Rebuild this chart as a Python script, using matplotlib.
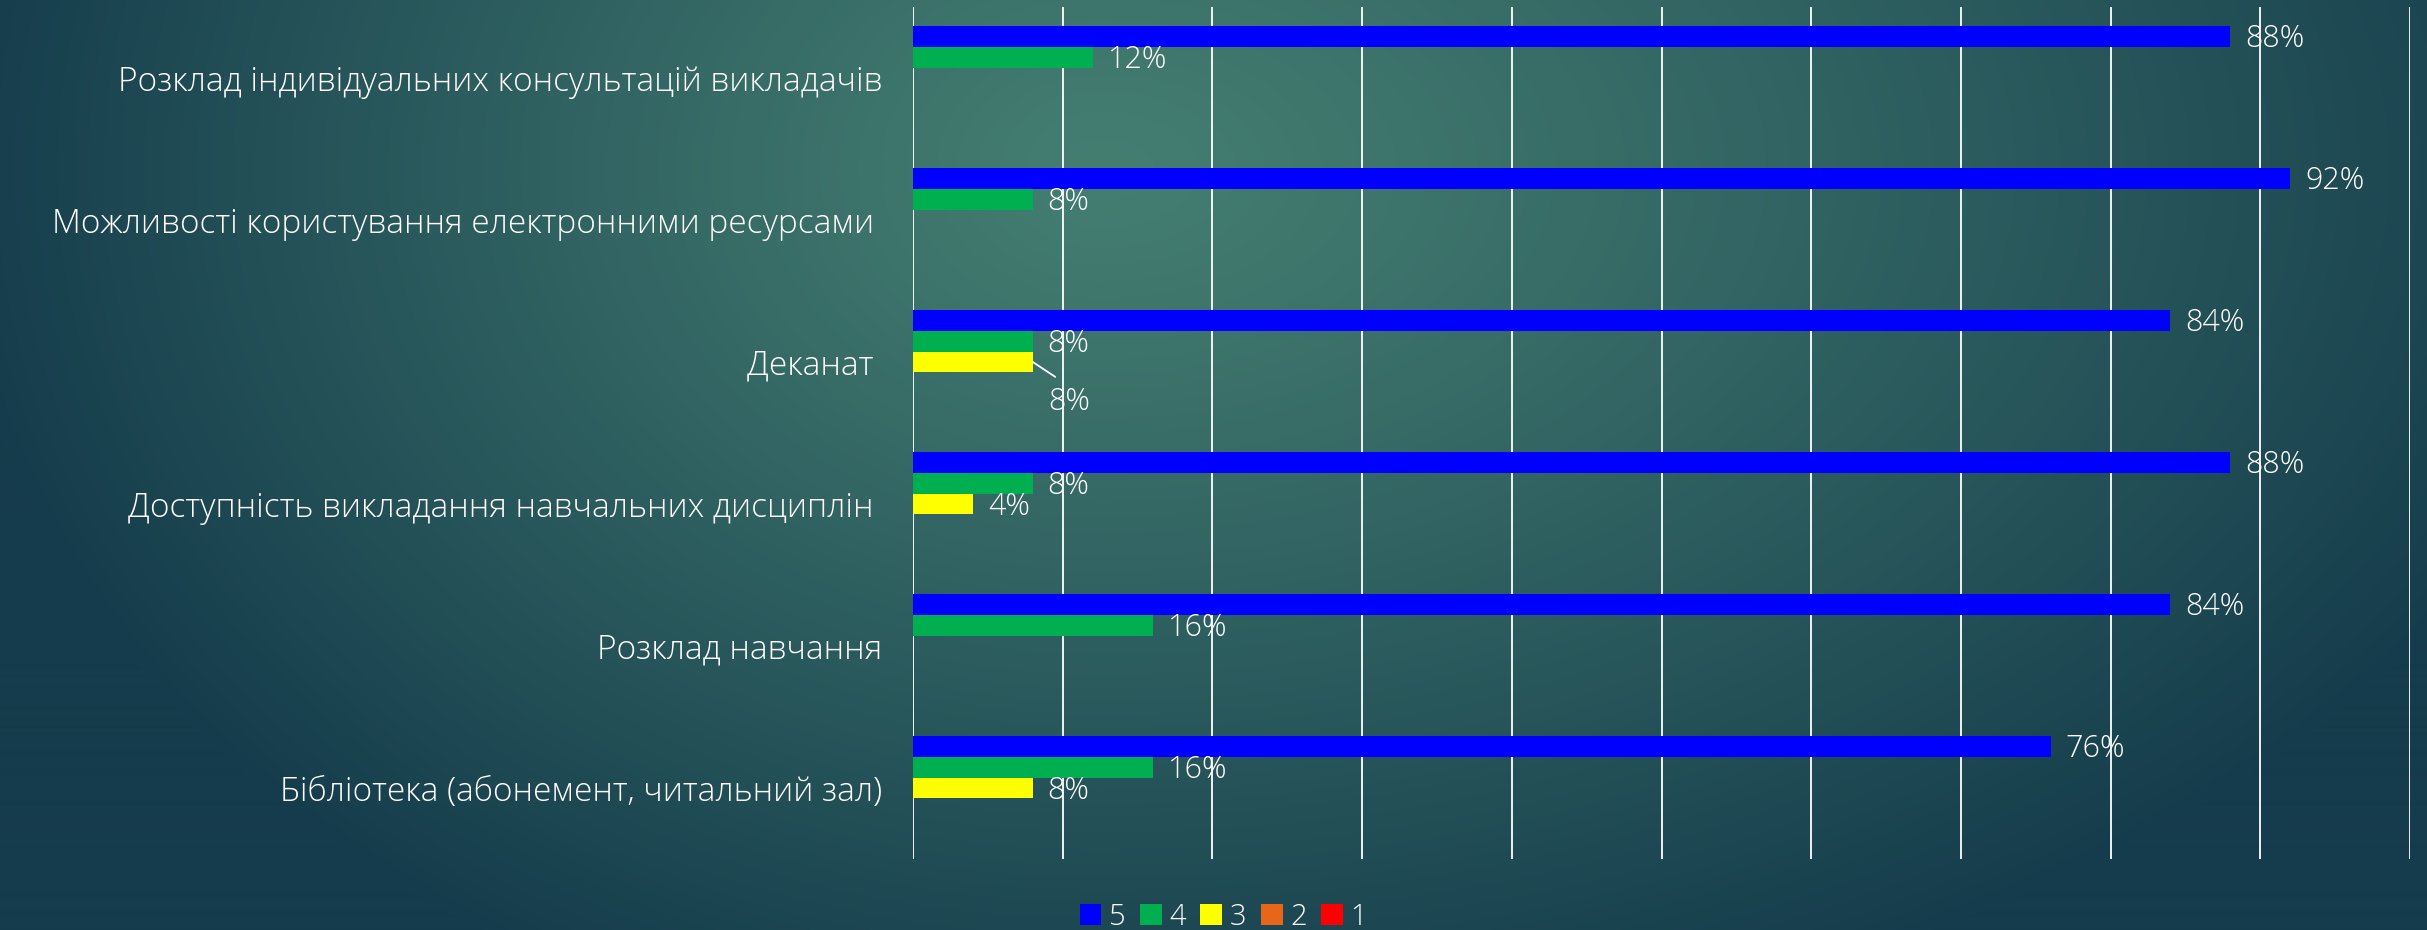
import numpy as np
import matplotlib
matplotlib.use('Agg')
import matplotlib.pyplot as plt
from matplotlib.patches import Patch

# ---------------- DATA ----------------
categories = ['Розклад індивідуальних консультацій викладачів',
              'Можливості користування електронними ресурсами ',
              'Деканат ',
              'Доступність викладання навчальних дисциплін ',
              'Розклад навчання',
              'Бібліотека (абонемент, читальний зал)']
series_names = ['5', '4', '3', '2', '1']
s5 = [88, 92, 84, 88, 84, 76]
s4 = [12, 8, 8, 8, 16, 16]
s3 = [0, 0, 8, 4, 0, 8]
s2 = [0, 0, 0, 0, 0, 0]
s1 = [0, 0, 0, 0, 0, 0]
colors = ['#0000FF', '#00B050', '#FFFF00', '#E8661A', '#FF0000']

values = [s5, s4, s3, s2, s1]

plt.rcParams['font.family'] = ['Open Sans', 'DejaVu Sans']

W, H = 2427, 930
fig = plt.figure(figsize=(W / 100, H / 100), dpi=100)

# ---------------- BACKGROUND ----------------
bg = fig.add_axes([0, 0, 1, 1])
yy, xx = np.mgrid[0:H, 0:W]
rx = np.where(xx < 1100, 1150, 1550)
t = np.sqrt(((xx - 1100) / rx) ** 2 + ((yy - 170) / 900) ** 2)
t = np.clip(t, 0, 1) ** 1.15
light = np.array([68, 126, 113]) / 255
dark = np.array([21, 60, 76]) / 255
img = light[None, None, :] * (1 - t[..., None]) + dark[None, None, :] * t[..., None]
bg.imshow(img, aspect='auto', extent=[0, 1, 0, 1])
bg.axis('off')

# ---------------- CHART ----------------
ax = fig.add_axes([913 / W, 1 - 859 / H, (2410 - 913) / W, (859 - 7) / H])
ax.set_facecolor('none')

n = len(categories)
y = np.arange(n)
h = 0.147
fs = 22
for k, (name, vals, col) in enumerate(zip(series_names, values, colors)):
    pos = y + (k - 2) * h
    ax.barh(pos, vals, height=h, color=col, label=name, zorder=3)
    for i, v in enumerate(vals):
        if v == 0:
            continue
        if name == '3' and i == 2:
            # label moved off the bar with a leader line
            ax.annotate(f'{v}%', xy=(v, pos[i]), xytext=(v + 2.4, pos[i] + 0.28),
                        color='white', fontsize=fs, fontweight='light',
                        ha='center', va='center',
                        arrowprops=dict(arrowstyle='-', color='white', lw=1.3,
                                        shrinkA=8, shrinkB=0, relpos=(0.5, 1.0)))
        else:
            ax.text(v + 1.0, pos[i] + 0.02, f'{v}%', color='white', fontsize=fs,
                    fontweight='light', ha='left', va='center', zorder=4)

ax.set_xlim(0, 100)
ax.set_ylim(n - 0.5, -0.5)
ax.set_xticks(np.arange(0, 101, 10))
ax.xaxis.grid(True, color='white', lw=1.3, zorder=0)
ax.tick_params(axis='x', length=0, labelbottom=False)
ax.tick_params(axis='y', length=0, pad=22)
ax.set_yticks(y)
ax.set_yticklabels(categories, color='white', fontsize=24, fontweight='light')
for sp in ax.spines.values():
    sp.set_visible(False)

handles = [Patch(facecolor=c, label=s) for s, c in zip(series_names, colors)]
fig.legend(handles=handles, loc='lower center', bbox_to_anchor=(0.504, -0.03),
           ncol=5, frameon=False, prop={'size': 21, 'weight': 'light'}, labelcolor='white',
           handlelength=0.75, handleheight=0.75, handletextpad=0.25, columnspacing=0.5)

fig.savefig('out.png', dpi=100)
